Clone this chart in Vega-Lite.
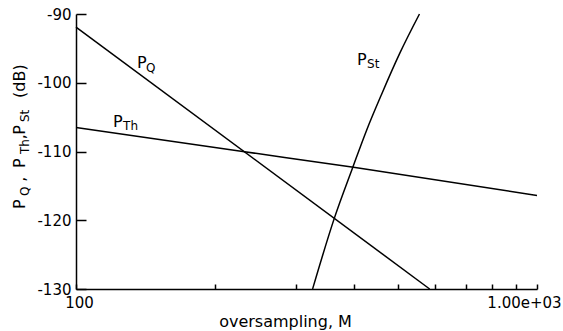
{
  "$schema": "https://vega.github.io/schema/vega-lite/v6.json",
  "width": 461,
  "height": 275,
  "autosize": {"type": "none"},
  "padding": {"left": 76, "top": 14, "right": 26, "bottom": 42},
  "background": "white",
  "config": {"view": {"stroke": null}, "font": "DejaVu Sans"},
  "datasets": {
    "lines": [
      {"series": "PQ", "M": 100, "dB": -91.9},
      {"series": "PQ", "M": 585, "dB": -130},
      {"series": "PTh", "M": 100, "dB": -106.5},
      {"series": "PTh", "M": 230, "dB": -110.0},
      {"series": "PTh", "M": 400, "dB": -112.3},
      {"series": "PTh", "M": 1000, "dB": -116.4},
      {"series": "PSt", "M": 326, "dB": -130},
      {"series": "PSt", "M": 363, "dB": -119.8},
      {"series": "PSt", "M": 398, "dB": -112.4},
      {"series": "PSt", "M": 427, "dB": -106.9},
      {"series": "PSt", "M": 460, "dB": -101.7},
      {"series": "PSt", "M": 504, "dB": -95.7},
      {"series": "PSt", "M": 556, "dB": -90}
    ],
    "labelsMain": [
      {"t": "P", "M": 135.6, "dB": -97.85},
      {"t": "P", "M": 120.3, "dB": -106.44},
      {"t": "P", "M": 407, "dB": -97.42}
    ],
    "labelsSub": [
      {"t": "Q", "M": 141.8, "dB": -98.44},
      {"t": "Th", "M": 126.5, "dB": -106.87},
      {"t": "St", "M": 428, "dB": -97.85}
    ],
    "titleMain": [
      {"t": "P", "M": 100, "dB": -118.36},
      {"t": ",", "M": 100, "dB": -114.4},
      {"t": "P", "M": 100, "dB": -112.4},
      {"t": ",", "M": 100, "dB": -108.2},
      {"t": "P", "M": 100, "dB": -107.55},
      {"t": "(dB)", "M": 100, "dB": -102.2}
    ],
    "titleSub": [
      {"t": "Q", "M": 100, "dB": -116.47},
      {"t": "Th", "M": 100, "dB": -110.36},
      {"t": "St", "M": 100, "dB": -105.71}
    ]
  },
  "layer": [
    {
      "data": {"name": "lines"},
      "mark": {"type": "line", "color": "black", "strokeWidth": 1.5, "interpolate": "monotone"},
      "encoding": {
        "x": {
          "field": "M",
          "type": "quantitative",
          "scale": {"type": "log", "domain": [100, 1000], "nice": false},
          "axis": {
            "title": "oversampling, M",
            "values": [100, 200, 300, 400, 500, 600, 700, 800, 900, 1000],
            "labelExpr": "datum.value == 100 ? '100' : (datum.value == 1000 ? '1.00e+03' : '')",
            "labelFlush": false,
            "labelOverlap": false,
            "labelOffset": {"condition": {"test": "datum.value == 1000", "value": -13}, "value": 3},
            "labelFontSize": 15,
            "labelColor": "black",
            "labelPadding": 11,
            "tickSize": -5,
            "tickColor": "black",
            "tickWidth": 1.5,
            "domainColor": "black",
            "domainWidth": 1.5,
            "grid": false,
            "titleFontSize": 16,
            "titleFontWeight": "normal",
            "titleColor": "black",
            "titleX": 209,
            "titleY": 37,
            "titleBaseline": "alphabetic",
            "titleAlign": "center"
          }
        },
        "y": {
          "field": "dB",
          "type": "quantitative",
          "scale": {"domain": [-130, -90], "nice": false, "zero": false},
          "axis": {
            "title": null,
            "values": [-130, -120, -110, -100, -90],
            "labelExpr": "'' + datum.value",
            "labelFontSize": 15,
            "labelColor": "black",
            "labelPadding": 15,
            "tickSize": -10,
            "tickColor": "black",
            "tickWidth": 1.5,
            "domainColor": "black",
            "domainWidth": 1.5,
            "grid": false
          }
        },
        "detail": {"field": "series", "type": "nominal"}
      }
    },
    {
      "data": {"name": "labelsMain"},
      "mark": {"type": "text", "align": "left", "baseline": "alphabetic", "fontSize": 16, "color": "black"},
      "encoding": {
        "x": {"field": "M", "type": "quantitative"},
        "y": {"field": "dB", "type": "quantitative"},
        "text": {"field": "t"}
      }
    },
    {
      "data": {"name": "labelsSub"},
      "mark": {"type": "text", "align": "left", "baseline": "alphabetic", "fontSize": 12, "color": "black"},
      "encoding": {
        "x": {"field": "M", "type": "quantitative"},
        "y": {"field": "dB", "type": "quantitative"},
        "text": {"field": "t"}
      }
    },
    {
      "data": {"name": "titleMain"},
      "mark": {"type": "text", "align": "left", "baseline": "alphabetic", "fontSize": 16, "color": "black", "angle": 270, "dy": -51},
      "encoding": {
        "x": {"field": "M", "type": "quantitative"},
        "y": {"field": "dB", "type": "quantitative"},
        "text": {"field": "t"}
      }
    },
    {
      "data": {"name": "titleSub"},
      "mark": {"type": "text", "align": "left", "baseline": "alphabetic", "fontSize": 12, "color": "black", "angle": 270, "dy": -47},
      "encoding": {
        "x": {"field": "M", "type": "quantitative"},
        "y": {"field": "dB", "type": "quantitative"},
        "text": {"field": "t"}
      }
    }
  ]
}
